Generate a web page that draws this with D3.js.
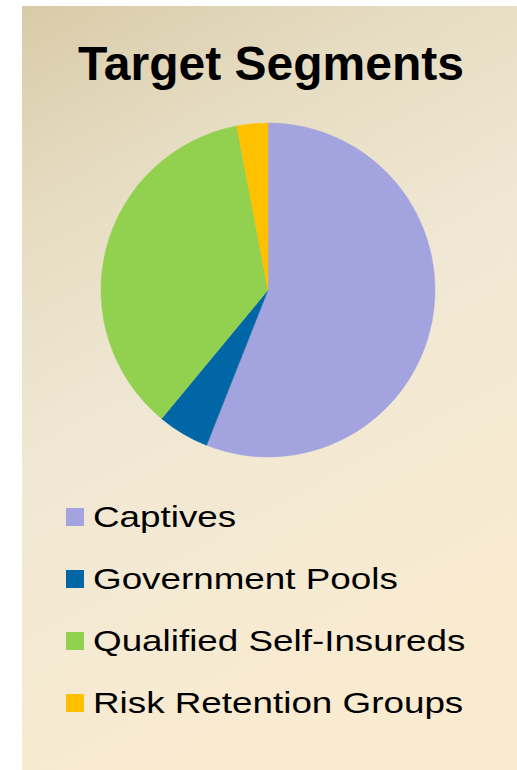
<!DOCTYPE html>
<html>
<head>
<meta charset="utf-8">
<script src="https://cdn.jsdelivr.net/npm/d3@7"></script>
<style>
  body { margin: 0; background: #fff; }
  text { font-family: "Liberation Sans", Arial, sans-serif; }
</style>
</head>
<body>
<div id="chart"></div>
<script>
// pie data (percent)
let categories = ["Captives", "Government Pools", "Qualified Self-Insureds", "Risk Retention Groups"];
let values = [56, 5, 36, 3];
let colors = ["#a3a4df", "#0066a6", "#92d050", "#ffc000"];
let title = "Target Segments";

let width = 517, height = 770;

let svg = d3.select("#chart")
  .append("svg")
  .attr("width", width)
  .attr("height", height);

// background panel, tan at the top fading to cream
let defs = svg.append("defs");
let grad = defs.append("linearGradient")
  .attr("id", "bg")
  .attr("x1", "0%").attr("y1", "0%")
  .attr("x2", "35%").attr("y2", "100%");
grad.append("stop").attr("offset", "0%").attr("stop-color", "#d8cba8");
grad.append("stop").attr("offset", "25%").attr("stop-color", "#e6dcc2");
grad.append("stop").attr("offset", "55%").attr("stop-color", "#f0e8d4");
grad.append("stop").attr("offset", "100%").attr("stop-color", "#f9ebd0");

svg.append("rect")
  .attr("x", 22)
  .attr("y", 6)
  .attr("width", width - 22)
  .attr("height", height - 6)
  .attr("fill", "url(#bg)");

// title
svg.append("text")
  .attr("x", 271)
  .attr("y", 80)
  .attr("text-anchor", "middle")
  .attr("font-size", 48)
  .attr("font-weight", "bold")
  .attr("fill", "#000")
  .text(title);

// pie
let cx = 268, cy = 290, radius = 167;
let pie = d3.pie().sort(null).value(d => d.value);
let arc = d3.arc().innerRadius(0).outerRadius(radius);
let data = categories.map((c, i) => ({name: c, value: values[i], color: colors[i]}));

let g = svg.append("g")
  .attr("transform", "translate(" + cx + "," + cy + ")");

g.selectAll("path")
  .data(pie(data))
  .enter().append("path")
    .attr("d", arc)
    .attr("fill", d => d.data.color)
    .attr("stroke", d => d.data.color)
    .attr("stroke-width", 0.5);

// legend
let legend = svg.append("g");
let rowY = d3.scaleBand()
  .domain(categories)
  .range([508, 508 + 62 * categories.length]);

let rows = legend.selectAll("g")
  .data(data)
  .enter().append("g")
    .attr("transform", d => "translate(66," + rowY(d.name) + ")");

rows.append("rect")
  .attr("width", 18)
  .attr("height", 18)
  .attr("fill", d => d.color);

// legend text in the picture is stretched sideways
rows.append("text")
  .attr("transform", "translate(27,19) scale(1.27,1)")
  .attr("font-size", 29)
  .attr("fill", "#000")
  .text(d => d.name);
</script>
</body>
</html>
